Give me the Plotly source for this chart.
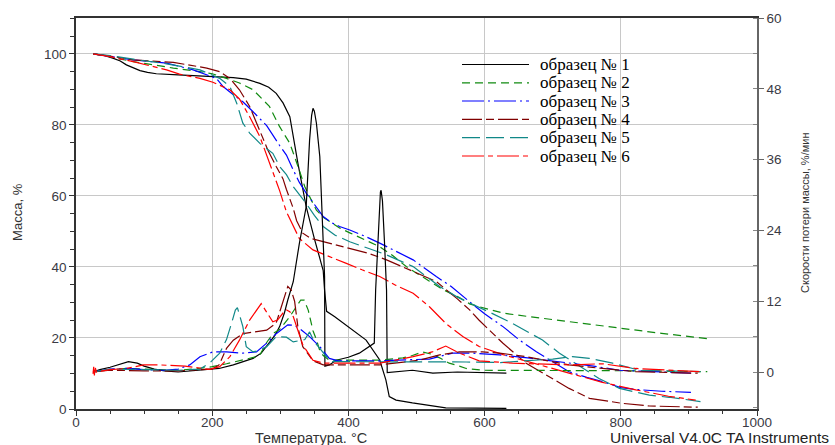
import plotly.graph_objects as go

# ---------------- data ----------------
sample_names = ["образец № 1", "образец № 2", "образец № 3",
                "образец № 4", "образец № 5", "образец № 6"]

# TG curves: temperature (°C) and mass (%)
tg1_t = [25, 40, 54, 65, 74, 85, 94, 105, 118, 150, 182, 231, 250, 270, 283, 294, 304, 314, 326, 338, 350, 363, 365, 368, 380, 397, 426, 446, 455, 460, 470, 494, 543, 632]
tg1_m = [100, 99.6, 98.8, 98.0, 96.9, 95.9, 95.3, 94.8, 94.4, 94.1, 93.8, 93.3, 92.9, 91.7, 90.6, 88.9, 86.2, 82.3, 69.0, 57.0, 48.0, 39.0, 33.5, 27.5, 26.0, 23.5, 19.4, 13.8, 8.2, 3.5, 2.5, 1.7, 0.3, 0.2]

tg2_t = [25, 50, 84, 110, 143, 182, 200, 221, 240, 260, 284, 299, 314, 326, 336, 343, 353, 363, 372, 387, 402, 425, 446, 465, 485, 519, 540, 563, 578, 592, 610, 627, 666, 724, 798, 860, 927]
tg2_m = [100, 99.2, 97.8, 97.0, 96.0, 95.0, 94.4, 93.1, 91.8, 89.9, 85.2, 79.5, 74.8, 68.3, 62.6, 59.8, 56.0, 54.0, 52.8, 51.0, 49.6, 47.6, 45.7, 43.2, 40.1, 36.0, 33.5, 31.4, 29.6, 28.8, 27.8, 27.0, 26.0, 24.6, 22.7, 21.3, 19.8]

tg3_t = [25, 50, 84, 133, 172, 206, 216, 231, 245, 260, 280, 299, 309, 319, 328, 338, 350, 363, 375, 387, 402, 425, 446, 470, 495, 529, 551, 578, 600, 627, 650, 676, 700, 724, 750, 773, 800, 822, 860, 903]
tg3_m = [100, 99.3, 98.3, 97.4, 95.5, 93.1, 90.8, 88.5, 86.5, 83.7, 79.8, 74.2, 71.5, 67.3, 63.8, 60.8, 57.5, 54.2, 52.5, 51.4, 50.4, 48.6, 46.7, 44.5, 42.0, 37.3, 34.5, 30.2, 26.8, 23.2, 19.6, 16.1, 13.2, 10.5, 8.9, 7.7, 6.0, 5.5, 5.0, 4.7]

tg4_t = [25, 50, 84, 143, 192, 211, 226, 240, 255, 270, 282, 294, 304, 309, 319, 324, 333, 345, 363, 385, 402, 430, 456, 495, 529, 560, 578, 592, 627, 661, 695, 724, 754, 802, 842, 913]
tg4_m = [100, 99.4, 98.3, 97.6, 96.0, 95.0, 93.1, 89.9, 85.2, 78.6, 72.8, 68.3, 64.8, 61.8, 56.5, 53.0, 49.5, 48.0, 47.1, 46.0, 45.3, 43.8, 42.0, 38.7, 35.9, 31.0, 27.9, 25.0, 18.5, 12.9, 9.1, 5.8, 3.0, 1.6, 0.85, 0.5]

tg5_t = [25, 50, 84, 133, 182, 211, 226, 236, 245, 255, 270, 289, 299, 309, 319, 328, 338, 350, 363, 380, 402, 430, 456, 495, 534, 560, 578, 610, 641, 685, 710, 744, 768, 798, 842, 871, 917]
tg5_m = [100, 99.5, 98.5, 97.2, 95.5, 93.1, 90.8, 86.1, 80.5, 77.7, 74.8, 72.0, 68.3, 66.0, 62.6, 60.5, 57.9, 54.5, 51.4, 49.0, 47.1, 45.2, 43.4, 40.1, 34.5, 31.5, 29.8, 27.0, 24.1, 19.4, 15.7, 11.5, 8.6, 5.8, 3.9, 3.3, 2.1]

tg6_t = [25, 50, 84, 133, 152, 182, 201, 226, 240, 255, 270, 284, 299, 309, 319, 328, 348, 375, 397, 420, 446, 470, 495, 519, 543, 568, 592, 627, 680, 724, 773, 822, 870, 910]
tg6_m = [100, 99.2, 97.8, 95.5, 94.3, 93.1, 92.0, 89.9, 87.3, 82.3, 76.7, 69.2, 61.5, 55.5, 51.5, 48.0, 44.8, 42.6, 41.0, 39.2, 37.3, 34.8, 32.6, 28.8, 24.1, 20.4, 17.6, 15.3, 12.5, 10.1, 7.5, 5.4, 3.6, 2.5]

# DTG curves: temperature (°C) and rate of mass loss (%/min)
dtg1_t = [25, 35, 50, 65, 77, 90, 100, 115, 130, 150, 182, 210, 231, 245, 260, 272, 284, 292, 299, 306, 311, 319, 328, 338, 343, 346, 348, 350, 353, 358, 360, 363, 365, 365.5, 372, 382, 400, 416, 430, 438, 440, 444, 447, 448, 450, 453, 456, 457, 470, 494, 524, 560, 632]
dtg1_r = [0, 0.4, 0.8, 1.4, 1.75, 1.5, 1.0, 0.5, 0.2, 0.0, 0.3, 0.6, 1.2, 1.7, 2.3, 3.2, 4.9, 6.2, 7.7, 10.0, 12.2, 15.3, 21.8, 28.0, 39.3, 43.5, 44.7, 44.2, 42.2, 36.5, 30.8, 22.0, 16.2, 1.0, 1.2, 2.0, 2.5, 3.2, 4.2, 4.9, 13.9, 25.0, 30.5, 30.8, 29.0, 22.0, 13.9, -0.1, 0.0, 0.3, -0.2, 0.0, -0.2]

dtg2_t = [25, 50, 74, 100, 123, 150, 180, 200, 221, 245, 265, 270, 280, 289, 299, 314, 324, 330, 335, 341, 348, 353, 358, 363, 372, 397, 446, 480, 494, 509, 523, 534, 548, 563, 573, 597, 641, 724, 830, 927]
dtg2_r = [0, 0.4, 0.6, 0.5, 0.3, 0.3, 0.6, 0.9, 1.4, 2.0, 2.6, 2.9, 5.0, 6.5, 7.2, 9.4, 11.2, 12.2, 12.2, 10.5, 7.0, 5.5, 3.6, 2.8, 2.0, 2.0, 2.0, 2.4, 2.8, 3.4, 3.0, 2.4, 1.5, 1.0, 0.6, 0.3, 0.3, 0.3, 0.2, 0.05]

dtg3_t = [25, 50, 74, 100, 130, 150, 167, 182, 201, 221, 245, 265, 280, 294, 311, 320, 328, 343, 358, 372, 385, 446, 519, 553, 583, 622, 670, 724, 760, 798, 850, 903]
dtg3_r = [0, 0.5, 0.6, 0.4, 0.3, 0.5, 1.2, 2.6, 3.4, 3.4, 3.2, 3.4, 4.9, 6.5, 8.0, 7.9, 7.4, 6.0, 4.3, 2.3, 1.9, 1.9, 2.2, 3.2, 3.2, 2.9, 2.3, 1.5, 1.0, 0.3, 0.0, -0.2]

dtg4_t = [25, 50, 100, 150, 200, 210, 221, 231, 245, 260, 280, 294, 304, 311, 316, 321, 326, 333, 348, 363, 446, 504, 534, 563, 597, 622, 661, 724, 773, 822, 913]
dtg4_r = [0, 0.3, 0.2, 0.2, 0.5, 1.2, 4.0, 5.4, 6.5, 6.8, 7.1, 8.3, 12.2, 14.5, 13.9, 12.0, 7.5, 4.3, 1.9, 1.2, 1.2, 2.0, 2.9, 3.4, 3.4, 3.2, 2.6, 1.2, 0.6, 0.05, -0.2]

dtg5_t = [25, 50, 100, 150, 182, 196, 211, 221, 229, 234, 237, 241, 245, 250, 260, 270, 280, 294, 309, 319, 328, 336, 343, 350, 358, 367, 377, 420, 494, 573, 622, 666, 700, 729, 754, 788, 827, 917]
dtg5_r = [0, 0.5, 0.4, 0.3, 0.5, 1.5, 3.2, 5.5, 8.5, 10.5, 10.9, 9.5, 7.7, 4.3, 3.4, 3.7, 4.3, 6.0, 5.9, 5.1, 5.3, 5.5, 6.8, 5.1, 4.0, 2.7, 1.75, 1.75, 1.75, 1.7, 1.6, 2.0, 2.2, 2.6, 2.3, 1.5, 0.3, 0.05]

dtg6_t = [25, 26, 27, 28, 30, 50, 74, 99, 123, 160, 196, 211, 226, 240, 255, 265, 272, 278, 284, 289, 296, 304, 309, 314, 319, 324, 333, 348, 363, 446, 495, 523, 543, 563, 592, 641, 700, 724, 773, 822, 917]
dtg6_r = [-0.3, 0.9, -0.6, 0.9, 0.0, 0.4, 0.6, 1.2, 1.2, 1.0, 0.45, 0.9, 2.6, 5.4, 8.8, 10.5, 11.6, 10.5, 9.4, 8.5, 8.8, 10.0, 10.5, 10.2, 9.4, 7.7, 4.6, 2.0, 1.5, 1.5, 2.6, 3.4, 4.4, 3.2, 1.9, 1.5, 1.3, 1.2, 1.4, 0.6, 0.05]

x_ticks = [0, 200, 400, 600, 800, 1000]
y_ticks = [0, 20, 40, 60, 80, 100]
y2_ticks = [0, 12, 24, 36, 48, 60]

# ---------------- styles ----------------
colors = ["#000000", "#108a10", "#0000ff", "#800000", "#108888", "#ff0000"]
dashes = ["solid", "8px,5px", "22px,4px,2px,4px", "20px,4px,8px,4px", "18px,6px", "22px,4px,5px,4px"]

tg_t = [tg1_t, tg2_t, tg3_t, tg4_t, tg5_t, tg6_t]
tg_m = [tg1_m, tg2_m, tg3_m, tg4_m, tg5_m, tg6_m]
dtg_t = [dtg1_t, dtg2_t, dtg3_t, dtg4_t, dtg5_t, dtg6_t]
dtg_r = [dtg1_r, dtg2_r, dtg3_r, dtg4_r, dtg5_r, dtg6_r]

fig = go.Figure()
for i in range(6):
    fig.add_trace(go.Scatter(x=dtg_t[i], y=dtg_r[i], mode="lines", yaxis="y2",
                             name=sample_names[i], showlegend=False,
                             line=dict(color=colors[i], width=1.2, dash=dashes[i])))
for i in range(6):
    fig.add_trace(go.Scatter(x=tg_t[i], y=tg_m[i], mode="lines", yaxis="y",
                             name=sample_names[i], showlegend=False,
                             line=dict(color=colors[i], width=1.2, dash=dashes[i])))

L, R, T, B = 76, 78, 18, 36
W, H = 835, 445
pw, ph = W - L - R, H - T - B

def px_x(px):
    return (px - L) / pw

def px_y(py):
    return (H - B - py) / ph

tickfont = dict(family="Liberation Sans, Arial, sans-serif", size=13.5, color="#3a3a44")

fig.update_layout(
    width=W, height=H,
    margin=dict(l=L, r=R, t=T, b=B),
    plot_bgcolor="white", paper_bgcolor="white",
    showlegend=False,
    xaxis=dict(range=[0, 1000], tickvals=x_ticks, showgrid=True, gridcolor="#c8c8c8",
               gridwidth=1, zeroline=False, showline=True, linecolor="#333333",
               linewidth=1.5, mirror=True, ticks="outside", ticklen=5, tickcolor="#333333",
               ticklabelstandoff=-5,
               minor=dict(dtick=50, ticks="outside", ticklen=3, tickcolor="#333333", showgrid=False),
               tickfont=tickfont),
    yaxis=dict(range=[0, 110.1], tickvals=y_ticks, showgrid=True, gridcolor="#c8c8c8",
               gridwidth=1, zeroline=False, showline=True, linecolor="#333333",
               linewidth=1.5, ticks="outside", ticklen=5, tickcolor="#333333",
               minor=dict(dtick=5, ticks="outside", ticklen=4, tickcolor="#333333", showgrid=False),
               tickfont=tickfont),
    yaxis2=dict(range=[-6.27, 60], tickvals=y2_ticks, overlaying="y", side="right",
                showgrid=False, zeroline=False, showline=True, linecolor="#666666",
                linewidth=1.5, ticks="outside", ticklen=5, tickcolor="#666666",
                minor=dict(dtick=6, ticks="inside", ticklen=4, tickcolor="#888888"),
                tickfont=tickfont),
)

# ---------------- legend (drawn manually) ----------------
leg_rows = [64.5, 82.8, 101.0, 119.3, 137.7, 156.0]
for i in range(6):
    yy = px_y(leg_rows[i])
    fig.add_shape(type="line", xref="paper", yref="paper",
                  x0=px_x(462), x1=px_x(529), y0=yy, y1=yy,
                  line=dict(color=colors[i], width=1.2, dash=dashes[i]))
    fig.add_annotation(xref="paper", yref="paper", x=px_x(538), y=yy,
                       xanchor="left", yanchor="middle", showarrow=False,
                       text=sample_names[i],
                       font=dict(family="Liberation Serif, Times New Roman, serif", size=17, color="#000000"))

# ---------------- axis titles and footer ----------------
title_font = dict(family="Liberation Sans, Arial, sans-serif", size=13, color="#333333")
fig.add_annotation(xref="paper", yref="paper", x=px_x(17), y=px_y(212), text="Масса, %",
                   textangle=-90, showarrow=False, xanchor="center", yanchor="middle", font=title_font)
fig.add_annotation(xref="paper", yref="paper", x=px_x(805), y=px_y(213),
                   text="Скорости потери массы, %/мин",
                   textangle=-90, showarrow=False, xanchor="center", yanchor="middle",
                   font=dict(family="Liberation Sans, Arial, sans-serif", size=11, color="#333333"))
fig.add_annotation(xref="paper", yref="paper", x=px_x(311), y=px_y(438), text="Температура. °C",
                   showarrow=False, xanchor="center", yanchor="middle",
                   font=dict(family="Liberation Sans, Arial, sans-serif", size=14.5, color="#333333"))
fig.add_annotation(xref="paper", yref="paper", x=px_x(831), y=px_y(437.5),
                   text="Universal V4.0C TA Instruments",
                   showarrow=False, xanchor="right", yanchor="middle",
                   font=dict(family="Liberation Sans, Arial, sans-serif", size=15.5, color="#222222"))

fig.write_html("out.html", config={"displayModeBar": False},
               post_script="document.body.style.margin='0px';document.body.style.overflow='hidden';")
